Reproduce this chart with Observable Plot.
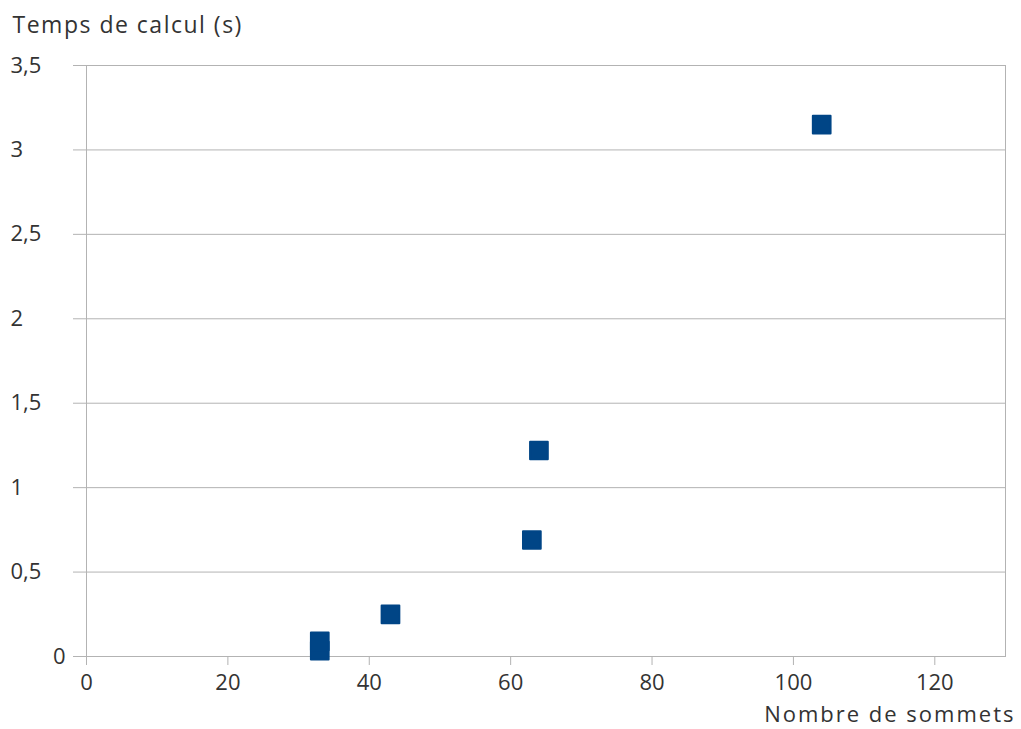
<!DOCTYPE html>
<html>
<head>
<meta charset="utf-8">
<script src="https://cdn.jsdelivr.net/npm/d3@7"></script>
<script src="https://cdn.jsdelivr.net/npm/@observablehq/plot@0.6"></script>
<style>
  html, body { margin: 0; padding: 0; background: white; }
  .wide text { letter-spacing: 1.5px; font-size: 23px; }
  .wideb text { letter-spacing: 2px; font-size: 22px; }
</style>
</head>
<body>
<div id="chart"></div>
<script>
const sommets = [33, 33, 43, 63, 64, 104];
const temps = [0.035, 0.09, 0.25, 0.69, 1.22, 3.15];
const xTicks = [0, 20, 40, 60, 80, 100, 120];
const yTicks = [0, 0.5, 1, 1.5, 2, 2.5, 3, 3.5];
const titleY = "Temps de calcul (s)";
const titleX = "Nombre de sommets";

const data = sommets.map((s, i) => ({ sommets: s, temps: temps[i] }));
const fmt = d => String(d).replace(".", ",");
const grey = "#b3b3b3";
const ink = "#333333";
const blue = "#004586";

const chart = Plot.plot({
  width: 1021,
  height: 729,
  marginTop: 65,
  marginLeft: 86,
  marginRight: 16,
  marginBottom: 73,
  style: { fontFamily: "'Open Sans', sans-serif", fontSize: "22px", color: ink, background: "white" },
  x: { domain: [0, 130] },
  y: { domain: [0, 3.5] },
  marks: [
    Plot.gridY(yTicks, { stroke: grey, strokeOpacity: 1 }),
    Plot.frame({ stroke: grey }),
    Plot.axisY(yTicks.slice(1), { tickSize: 13, tickPadding: 63, textAnchor: "start", tickFormat: fmt, stroke: grey, fill: ink, label: null }),
    Plot.axisY([0], { tickSize: 13, tickPadding: 8, tickFormat: fmt, stroke: grey, fill: ink, label: null }),
    Plot.axisX(xTicks, { tickSize: 9, tickPadding: 9, stroke: grey, fill: ink, label: null }),
    Plot.text([titleY], { frameAnchor: "top-left", lineAnchor: "middle", dx: -74, dy: -40, textAnchor: "start", fill: ink, className: "wide" }),
    Plot.text([titleX], { frameAnchor: "bottom-right", lineAnchor: "middle", dx: 10, dy: 58, textAnchor: "end", fill: ink, className: "wideb" }),
    Plot.dot(data, { x: "sommets", y: "temps", symbol: "square", r: 10, fill: blue, stroke: blue, strokeWidth: 2, strokeLinejoin: "round" })
  ]
});
document.getElementById("chart").appendChild(chart);
</script>
</body>
</html>
